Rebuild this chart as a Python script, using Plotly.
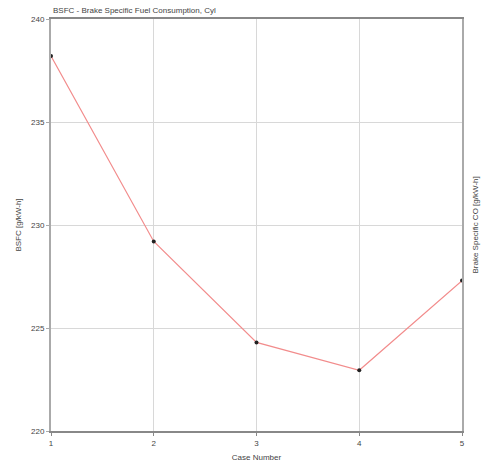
import plotly.graph_objects as go

cases = [1, 2, 3, 4, 5]
bsfc = [238.2, 229.2, 224.3, 222.95, 227.3]
y_ticks = [220, 225, 230, 235, 240]
x_ticks = [1, 2, 3, 4, 5]

fig = go.Figure()
fig.add_trace(go.Scatter(
    x=cases, y=bsfc, mode="lines+markers",
    line=dict(color="#f28c8c", width=1.2),
    marker=dict(color="#222222", size=4),
    showlegend=False,
))

font = dict(family="Liberation Sans, Arial, sans-serif", size=8, color="#444444")

fig.update_layout(
    width=497, height=473,
    margin=dict(l=51, r=35, t=19, b=39),
    paper_bgcolor="white", plot_bgcolor="white",
    font=font,
    xaxis=dict(
        range=[1, 5], tickvals=x_ticks, ticktext=[str(v) for v in x_ticks],
        showgrid=True, gridcolor="#d8d8d8", gridwidth=1,
        showline=True, linecolor="#888888", linewidth=2, mirror=True,
        ticks="outside", ticklen=3, tickcolor="#888888",
        title=dict(text="Case Number", font=font, standoff=8),
        zeroline=False,
    ),
    yaxis=dict(
        range=[220, 240], tickvals=y_ticks, ticktext=[str(v) for v in y_ticks],
        showgrid=True, gridcolor="#d8d8d8", gridwidth=1,
        showline=True, linecolor="#aaaaaa", linewidth=2, mirror=True,
        ticks="outside", ticklen=3, tickcolor="#aaaaaa",
        title=dict(text="BSFC [g/kW-h]", font=font, standoff=8),
        zeroline=False,
    ),
)

fig.add_annotation(
    text="BSFC - Brake Specific Fuel Consumption, Cyl",
    xref="paper", yref="paper", x=0.0, y=1.0, xanchor="left", yanchor="bottom",
    yshift=2, showarrow=False, font=font,
)
fig.add_annotation(
    text="Brake Specific CO [g/kW-h]",
    xref="paper", yref="paper", x=1.0, y=0.5, xanchor="left", yanchor="middle",
    xshift=6, textangle=-90, showarrow=False, font=font,
)

fig.write_html("out.html")
